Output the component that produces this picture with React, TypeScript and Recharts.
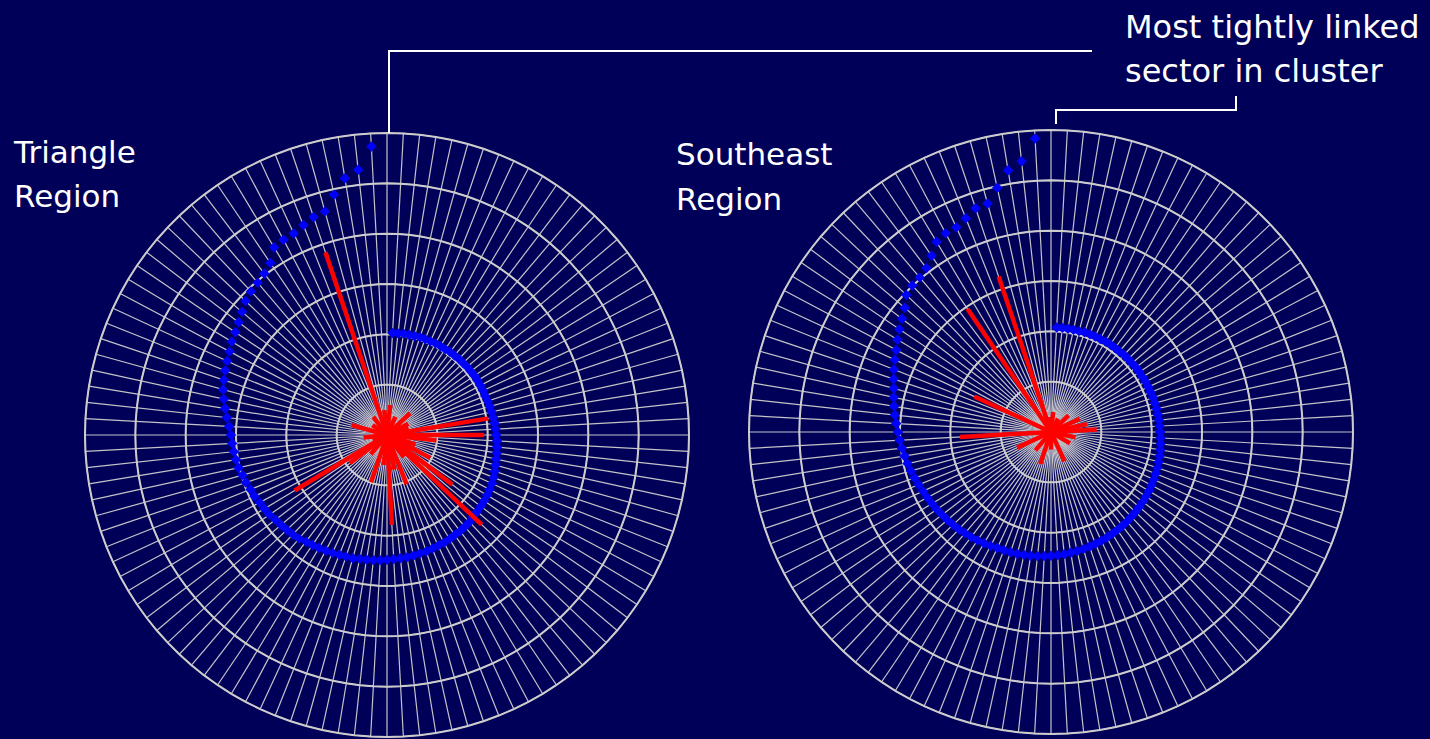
import React from 'react';
import { RadarChart, Radar, PolarGrid, PolarAngleAxis, PolarRadiusAxis } from 'recharts';

// 116 sectors around each wheel (sector 1 is the "most tightly linked" one at the top)
const sectors: string[] = Array.from({ length: 116 }, (_, i) => `Sector ${i + 1}`);

// Blue diamonds: linkage of each sector to sector 1 (ring units 0..6)
const triangleLinks: (number | null)[] = [
  null, 5.74, 5.30, 5.17, 4.89, 4.61, 4.57, 4.49, 4.41, 4.39,
  4.35, 4.13, 4.03, 3.97, 3.93, 3.87, 3.78, 3.70, 3.64, 3.60,
  3.54, 3.50, 3.46, 3.42, 3.38, 3.32, 3.26, 3.20, 3.14, 3.10,
  3.08, 3.06, 3.04, 3.02, 2.98, 2.96, 2.92, 2.90, 2.86, 2.84,
  2.82, 2.78, 2.76, 2.74, 2.72, 2.70, 2.66, 2.64, 2.62, 2.60,
  2.58, 2.56, 2.55, 2.54, 2.52, 2.51, 2.50, 2.49, 2.48, 2.47,
  2.46, 2.46, 2.45, 2.44, 2.44, 2.43, 2.42, 2.42, 2.41, 2.40,
  2.40, 2.39, 2.38, 2.36, 2.35, 2.34, 2.33, 2.32, 2.31, 2.30,
  2.28, 2.26, 2.24, 2.22, 2.21, 2.20, 2.19, 2.17, 2.16, 2.15,
  2.14, 2.13, 2.12, 2.11, 2.10, 2.10, 2.10, 2.10, 2.10, 2.09,
  2.09, 2.08, 2.08, 2.07, 2.07, 2.06, 2.06, 2.06, 2.05, 2.05,
  2.05, 2.04, 2.04, 2.04, 2.03, 2.03,
];

const southeastLinks: (number | null)[] = [
  null, 5.84, 5.41, 5.27, 4.97, 4.71, 4.69, 4.57, 4.48, 4.47,
  4.41, 4.23, 4.09, 4.03, 4.01, 3.96, 3.81, 3.72, 3.64, 3.56,
  3.48, 3.42, 3.36, 3.30, 3.24, 3.20, 3.16, 3.12, 3.08, 3.04,
  3.01, 2.98, 2.95, 2.92, 2.89, 2.86, 2.83, 2.80, 2.78, 2.76,
  2.74, 2.72, 2.70, 2.68, 2.66, 2.64, 2.62, 2.60, 2.58, 2.56,
  2.54, 2.53, 2.52, 2.51, 2.50, 2.49, 2.48, 2.47, 2.46, 2.45,
  2.44, 2.43, 2.42, 2.41, 2.40, 2.39, 2.38, 2.37, 2.36, 2.35,
  2.34, 2.33, 2.32, 2.31, 2.30, 2.29, 2.28, 2.27, 2.26, 2.25,
  2.24, 2.23, 2.22, 2.21, 2.20, 2.19, 2.18, 2.17, 2.16, 2.16,
  2.15, 2.15, 2.14, 2.14, 2.13, 2.13, 2.13, 2.12, 2.12, 2.12,
  2.11, 2.11, 2.11, 2.10, 2.10, 2.10, 2.10, 2.09, 2.09, 2.09,
  2.09, 2.08, 2.08, 2.08, 2.08, 2.08,
];

// Red spokes: sector index -> strength (ring units)
const triangleSpokeSectors: number[] = [2, 6, 12, 18, 24, 31, 35, 39, 41, 45, 52, 56, 59, 62, 65, 70, 73, 75, 78, 81, 85, 87, 90, 93, 96, 101, 108, 114];
const triangleSpokeValues: number[] = [0.50, 3.83, 0.45, 0.35, 0.73, 0.47, 0.30, 2.14, 0.93, 0.50, 0.99, 0.60, 1.79, 0.70, 1.05, 0.55, 2.59, 1.63, 0.97, 0.60, 0.99, 1.93, 2.04, 0.45, 0.48, 0.63, 0.40, 0.60];

const southeastSpokeSectors: number[] = [3, 6, 11, 21, 30, 37, 45, 52, 58, 66, 77, 83, 88, 91, 95, 101, 107, 114];
const southeastSpokeValues: number[] = [0.30, 3.26, 2.96, 1.68, 1.81, 0.74, 0.48, 0.67, 0.35, 0.64, 0.44, 0.50, 0.91, 0.73, 0.63, 0.48, 0.30, 0.40];

// Recharts places the first category one band past the start angle, so the
// reference sector (sector 1) is listed last to land on the top spoke.
const buildRows = (links: (number | null)[], spokeIdx: number[], spokeVal: number[]) => {
  const rows = sectors.map((sector, i) => {
    const k = spokeIdx.indexOf(i);
    return { sector, link: links[i], spoke: k >= 0 ? spokeVal[k] : null };
  });
  return rows.slice(1).concat(rows.slice(0, 1));
};

const triangleRows = buildRows(triangleLinks, triangleSpokeSectors, triangleSpokeValues);
const southeastRows = buildRows(southeastLinks, southeastSpokeSectors, southeastSpokeValues);

const BG = '#000058';
const FONT = '"DejaVu Sans", Tahoma, sans-serif';

const DiamondShape = (props: any) => {
  const pts: any[] = props.points || [];
  return (
    <g>
      {pts.map((p, i) => {
        const v = p.payload ? p.payload.link : p.value;
        if (v == null) return null;
        const s = 5.2;
        return (
          <polygon
            key={i}
            points={`${p.x},${p.y - s} ${p.x + s},${p.y} ${p.x},${p.y + s} ${p.x - s},${p.y}`}
            fill="#0000ff"
          />
        );
      })}
    </g>
  );
};

const SpokeShape = (props: any) => {
  const pts: any[] = props.points || [];
  return (
    <g>
      {pts.map((p, i) => {
        const v = p.payload ? p.payload.spoke : p.value;
        if (v == null) return null;
        return <line key={i} x1={p.cx} y1={p.cy} x2={p.x} y2={p.y} stroke="#ff0000" strokeWidth={4.5} />;
      })}
    </g>
  );
};

const Wheel = ({ rows, cx, cy }: { rows: any[]; cx: number; cy: number }) => (
  <RadarChart
    width={715}
    height={739}
    data={rows}
    cx={cx}
    cy={cy}
    outerRadius={302}
    startAngle={90}
    endAngle={450}
    margin={{ top: 0, right: 0, bottom: 0, left: 0 }}
  >
    <PolarGrid gridType="polygon" stroke="#c4c4c8" strokeWidth={1.2} />
    <PolarGrid gridType="polygon" radialLines={false} stroke="#cccccc" strokeWidth={2} />
    <PolarAngleAxis dataKey="sector" tick={false} axisLine={false} tickLine={false} />
    <PolarRadiusAxis domain={[0, 6]} tickCount={7} tick={false} axisLine={false} tickLine={false} />
    <Radar dataKey="link" stroke="none" fill="none" dot={false} isAnimationActive={false} shape={DiamondShape} />
    <Radar dataKey="spoke" stroke="none" fill="none" dot={false} isAnimationActive={false} shape={SpokeShape} />
  </RadarChart>
);

export default function App() {
  return (
    <div
      style={{
        position: 'absolute',
        left: 0,
        top: 0,
        width: 1430,
        height: 739,
        background: BG,
        overflow: 'hidden',
        fontFamily: FONT,
      }}
    >
      <div style={{ position: 'absolute', left: 0, top: 0 }}>
        <Wheel rows={triangleRows} cx={387} cy={435} />
      </div>
      <div style={{ position: 'absolute', left: 715, top: 0 }}>
        <Wheel rows={southeastRows} cx={336} cy={432} />
      </div>
      <svg width={1430} height={739} style={{ position: 'absolute', left: 0, top: 0, pointerEvents: 'none' }}>
        <path d="M389,133 V51 H1092" fill="none" stroke="#ffffff" strokeWidth={2} />
        <path d="M1056,124 V110 H1236 V96" fill="none" stroke="#ffffff" strokeWidth={2} />
        <g fill="#ffffff" fontFamily={FONT} fontSize={31}>
          <text x={14} y={163}>Triangle</text>
          <text x={14} y={207}>Region</text>
          <text x={676} y={165}>Southeast</text>
          <text x={676} y={210}>Region</text>
        </g>
        <g fill="#ffffff" fontFamily={FONT} fontSize={32}>
          <text x={1125} y={38}>Most tightly linked</text>
          <text x={1125} y={82}>sector in cluster</text>
        </g>
      </svg>
    </div>
  );
}
